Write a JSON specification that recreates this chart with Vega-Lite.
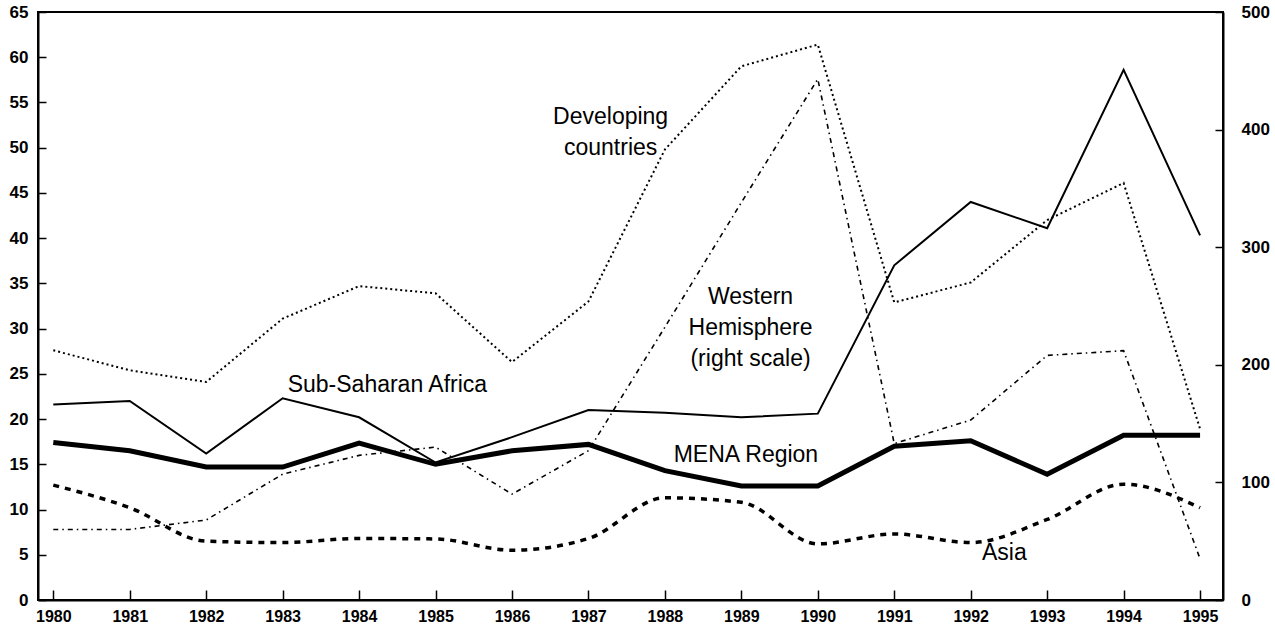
{
  "$schema": "https://vega.github.io/schema/vega-lite/v6.json",
  "width": 1185,
  "height": 588,
  "autosize": "none",
  "padding": {"left": 38, "top": 12, "right": 52, "bottom": 35},
  "background": "white",
  "config": {
    "view": {"stroke": "black", "strokeWidth": 2},
    "font": "Liberation Sans",
    "axis": {
      "domainColor": "black",
      "domainWidth": 2,
      "tickColor": "black",
      "tickWidth": 1.5,
      "labelColor": "black",
      "labelFont": "Liberation Sans",
      "labelFontWeight": "bold",
      "labelFontSize": 17,
      "grid": false,
      "title": null
    }
  },
  "data": {
    "values": [
      {"series": "Developing countries", "year": 1980, "value": 27.6},
      {"series": "Developing countries", "year": 1981, "value": 25.4},
      {"series": "Developing countries", "year": 1982, "value": 24.1},
      {"series": "Developing countries", "year": 1983, "value": 31.1},
      {"series": "Developing countries", "year": 1984, "value": 34.7},
      {"series": "Developing countries", "year": 1985, "value": 33.9},
      {"series": "Developing countries", "year": 1986, "value": 26.3},
      {"series": "Developing countries", "year": 1987, "value": 33.0},
      {"series": "Developing countries", "year": 1988, "value": 49.8},
      {"series": "Developing countries", "year": 1989, "value": 59.0},
      {"series": "Developing countries", "year": 1990, "value": 61.4},
      {"series": "Developing countries", "year": 1991, "value": 32.9},
      {"series": "Developing countries", "year": 1992, "value": 35.1},
      {"series": "Developing countries", "year": 1993, "value": 42.0},
      {"series": "Developing countries", "year": 1994, "value": 46.1},
      {"series": "Developing countries", "year": 1995, "value": 18.9},
      {"series": "Sub-Saharan Africa", "year": 1980, "value": 21.6},
      {"series": "Sub-Saharan Africa", "year": 1981, "value": 22.0},
      {"series": "Sub-Saharan Africa", "year": 1982, "value": 16.2},
      {"series": "Sub-Saharan Africa", "year": 1983, "value": 22.3},
      {"series": "Sub-Saharan Africa", "year": 1984, "value": 20.2},
      {"series": "Sub-Saharan Africa", "year": 1985, "value": 15.2},
      {"series": "Sub-Saharan Africa", "year": 1986, "value": 18.0},
      {"series": "Sub-Saharan Africa", "year": 1987, "value": 21.0},
      {"series": "Sub-Saharan Africa", "year": 1988, "value": 20.7},
      {"series": "Sub-Saharan Africa", "year": 1989, "value": 20.2},
      {"series": "Sub-Saharan Africa", "year": 1990, "value": 20.6},
      {"series": "Sub-Saharan Africa", "year": 1991, "value": 37.0},
      {"series": "Sub-Saharan Africa", "year": 1992, "value": 44.0},
      {"series": "Sub-Saharan Africa", "year": 1993, "value": 41.1},
      {"series": "Sub-Saharan Africa", "year": 1994, "value": 58.6},
      {"series": "Sub-Saharan Africa", "year": 1995, "value": 40.3},
      {"series": "MENA Region", "year": 1980, "value": 17.4},
      {"series": "MENA Region", "year": 1981, "value": 16.5},
      {"series": "MENA Region", "year": 1982, "value": 14.7},
      {"series": "MENA Region", "year": 1983, "value": 14.7},
      {"series": "MENA Region", "year": 1984, "value": 17.35},
      {"series": "MENA Region", "year": 1985, "value": 15.0},
      {"series": "MENA Region", "year": 1986, "value": 16.5},
      {"series": "MENA Region", "year": 1987, "value": 17.2},
      {"series": "MENA Region", "year": 1988, "value": 14.3},
      {"series": "MENA Region", "year": 1989, "value": 12.6},
      {"series": "MENA Region", "year": 1990, "value": 12.6},
      {"series": "MENA Region", "year": 1991, "value": 17.0},
      {"series": "MENA Region", "year": 1992, "value": 17.6},
      {"series": "MENA Region", "year": 1993, "value": 13.9},
      {"series": "MENA Region", "year": 1994, "value": 18.2},
      {"series": "MENA Region", "year": 1995, "value": 18.2},
      {"series": "Asia", "year": 1980, "value": 12.7},
      {"series": "Asia", "year": 1981, "value": 10.2},
      {"series": "Asia", "year": 1982, "value": 6.5},
      {"series": "Asia", "year": 1983, "value": 6.35},
      {"series": "Asia", "year": 1984, "value": 6.8},
      {"series": "Asia", "year": 1985, "value": 6.75},
      {"series": "Asia", "year": 1986, "value": 5.5},
      {"series": "Asia", "year": 1987, "value": 6.8},
      {"series": "Asia", "year": 1988, "value": 11.3},
      {"series": "Asia", "year": 1989, "value": 10.8},
      {"series": "Asia", "year": 1990, "value": 6.2},
      {"series": "Asia", "year": 1991, "value": 7.3},
      {"series": "Asia", "year": 1992, "value": 6.35},
      {"series": "Asia", "year": 1993, "value": 8.9},
      {"series": "Asia", "year": 1994, "value": 12.8},
      {"series": "Asia", "year": 1995, "value": 10.2},
      {"series": "Western Hemisphere", "year": 1980, "value": 60},
      {"series": "Western Hemisphere", "year": 1981, "value": 60},
      {"series": "Western Hemisphere", "year": 1982, "value": 68},
      {"series": "Western Hemisphere", "year": 1983, "value": 107},
      {"series": "Western Hemisphere", "year": 1984, "value": 123},
      {"series": "Western Hemisphere", "year": 1985, "value": 130},
      {"series": "Western Hemisphere", "year": 1986, "value": 90},
      {"series": "Western Hemisphere", "year": 1987, "value": 127},
      {"series": "Western Hemisphere", "year": 1988, "value": 232},
      {"series": "Western Hemisphere", "year": 1989, "value": 338},
      {"series": "Western Hemisphere", "year": 1990, "value": 443},
      {"series": "Western Hemisphere", "year": 1991, "value": 133},
      {"series": "Western Hemisphere", "year": 1992, "value": 153},
      {"series": "Western Hemisphere", "year": 1993, "value": 208},
      {"series": "Western Hemisphere", "year": 1994, "value": 212},
      {"series": "Western Hemisphere", "year": 1995, "value": 35}
    ]
  },
  "layer": [
    {
      "encoding": {
        "x": {
          "field": "year", "type": "quantitative",
          "scale": {"domain": [1979.8, 1995.3], "nice": false, "zero": false},
          "axis": {"values": [1980,1981,1982,1983,1984,1985,1986,1987,1988,1989,1990,1991,1992,1993,1994,1995], "format": "d", "tickSize": -10, "labelPadding": 18, "labelFontSize": 16}
        },
        "y": {
          "field": "value", "type": "quantitative",
          "scale": {"domain": [0, 65], "nice": false},
          "axis": {"orient": "left", "values": [0,5,10,15,20,25,30,35,40,45,50,55,60,65], "tickSize": -8, "labelPadding": 18}
        }
      },
      "layer": [
        {"transform": [{"filter": "datum.series === 'Developing countries'"}], "mark": {"type": "line", "color": "black", "strokeWidth": 2, "strokeDash": [2, 3]}},
        {"transform": [{"filter": "datum.series === 'Sub-Saharan Africa'"}], "mark": {"type": "line", "color": "black", "strokeWidth": 2}},
        {"transform": [{"filter": "datum.series === 'MENA Region'"}], "mark": {"type": "line", "color": "black", "strokeWidth": 5}},
        {"transform": [{"filter": "datum.series === 'Asia'"}], "mark": {"type": "line", "color": "black", "strokeWidth": 3.5, "strokeDash": [6, 6], "interpolate": "monotone"}},
        {
          "data": {"values": [
            {"label": "Developing\ncountries", "year": 1987.29, "value": 53.4},
            {"label": "Western\nHemisphere\n(right scale)", "year": 1989.12, "value": 33.5},
            {"label": "Sub-Saharan Africa", "year": 1984.37, "value": 23.8},
            {"label": "MENA Region", "year": 1989.06, "value": 16.06},
            {"label": "Asia", "year": 1992.44, "value": 5.24}
          ]},
          "mark": {"type": "text", "font": "Liberation Sans", "fontSize": 23, "lineHeight": 31, "lineBreak": "\n", "align": "center", "baseline": "middle", "color": "black"},
          "encoding": {"text": {"field": "label", "type": "nominal"}}
        }
      ]
    },
    {
      "transform": [{"filter": "datum.series === 'Western Hemisphere'"}],
      "mark": {"type": "line", "color": "black", "strokeWidth": 1.6, "strokeDash": [5, 4, 1.5, 4]},
      "encoding": {
        "x": {
          "field": "year", "type": "quantitative",
          "scale": {"domain": [1979.8, 1995.3], "nice": false, "zero": false},
          "axis": {"values": [1980,1981,1982,1983,1984,1985,1986,1987,1988,1989,1990,1991,1992,1993,1994,1995], "format": "d", "tickSize": -10, "labelPadding": 18, "labelFontSize": 16}
        },
        "y": {
          "field": "value", "type": "quantitative",
          "scale": {"domain": [0, 500], "nice": false},
          "axis": {"orient": "right", "values": [0,100,200,300,400,500], "tickSize": -8, "labelPadding": 26}
        }
      }
    }
  ],
  "resolve": {"scale": {"y": "independent"}, "axis": {"y": "independent"}}
}
